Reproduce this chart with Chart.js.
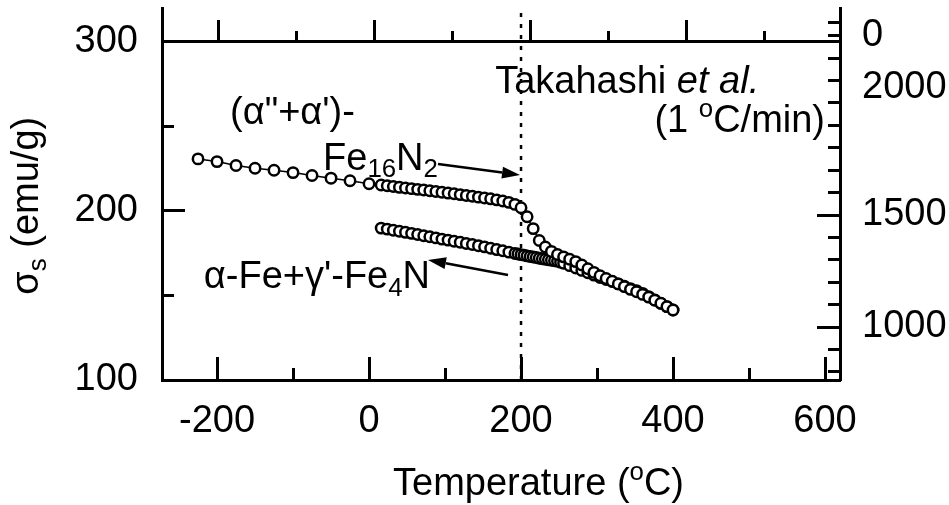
<!DOCTYPE html>
<html lang="en">
<head>
<meta charset="UTF-8">
<title>Saturation magnetization vs temperature</title>
<script src="https://cdn.jsdelivr.net/npm/chart.js"></script>
<style>
    html, body { margin: 0; padding: 0; background: #fff; }
    .wrapper { width: 949px; height: 505px; }
</style>
</head>
<body>
<div class="wrapper"><canvas id="sigmaChart"></canvas></div>
<script>
// heating run: sparse points below room temperature, then dense up to 400 C
const heatTemp = [-225, -200, -175, -150, -125, -100, -75, -50, -25, 0,
    16, 24, 32, 40, 48, 56, 64, 72, 80, 88, 96, 104, 112, 120, 128, 136, 144, 152, 160, 168, 176, 184, 192, 200,
    208, 216, 224, 232, 240, 248, 256, 264, 272, 280, 288, 296, 304, 312, 320, 328, 336, 344, 352, 360, 368, 376, 384, 392, 400];
const heatSigma = [230.7, 229.1, 226.8, 225.2, 224.0, 222.6, 220.9, 219.3, 217.8, 216.0,
    215.3, 214.8, 214.4, 213.9, 213.5, 213.1, 212.7, 212.3, 211.9, 211.4, 211.0, 210.5, 210.1, 209.6, 209.1, 208.6, 208.1, 207.6, 207.1, 206.5, 205.8, 205.0, 203.8, 201.8,
    196.5, 189.5, 182.5, 178.6, 176.0, 174.2, 172.8, 171.4, 170.0, 168.0, 165.8, 163.6, 161.6, 160.0, 158.4, 156.8, 155.2, 153.6, 152.2, 150.6, 149.0, 147.2, 145.4, 143.4, 141.4];

// cooling run back to room temperature (alpha-Fe + gamma'-Fe4N)
const coolTemp = [16, 24, 32, 40, 48, 56, 64, 72, 80, 88, 96, 104, 112, 120, 128, 136, 144, 152, 160, 168, 176, 184, 192,
    196, 200, 204, 208, 212, 216, 220, 224, 228, 232, 236, 240, 244, 248, 252,
    256, 264, 272, 280, 288, 296, 304, 312, 320, 328, 336, 344, 352, 360, 368, 376, 384, 392, 400];
const coolSigma = [189.8, 189.2, 188.5, 187.9, 187.3, 186.7, 186.0, 185.3, 184.7, 184.0, 183.3, 182.7, 182.0, 181.4, 180.7, 180.1, 179.4, 178.7, 177.9, 177.1, 176.4, 175.6, 174.8,
    174.5, 174.1, 173.8, 173.4, 173.0, 172.7, 172.4, 172.0, 171.7, 171.4, 171.1, 170.8, 170.5, 170.2, 169.6,
    169.0, 167.6, 166.2, 164.8, 163.4, 162.0, 160.6, 159.4, 158.2, 156.8, 155.4, 154.0, 152.8, 151.2, 149.3, 147.3, 145.3, 143.4, 141.4];

const transitionTemp = 200;

// axis ranges and ticks
const xMin = -272.4, xMax = 619.7;
const topMin = -271.8, topMax = 597.4;
const yMin = 100, yMax = 319.9;
const rightMin = 763.4, rightMax = 2424.1;

const xMajorTicks = [-200, 0, 200, 400, 600];
const xMinorTicks = [-100, 100, 300, 500];
const topMajorTicks = [-200, 0, 200, 400];
const topMinorTicks = [-100, 100, 300, 500];
const yMajorTicks = [100, 200, 300];
const yMinorTicks = [150, 250];
const rightLabelValues = [2300, 2070, 1500, 1000];
const rightLabels = ['0', '2000', '1500', '1000'];
const rightMajorTicks = [1000, 1500];
const rightMinorTicks = [800, 900, 1100, 1200, 1300, 1400, 1600, 1700, 1800, 1900, 2000, 2100, 2200, 2300, 2360];

// text on the plot, anchored in data units (t = temperature, s = sigma)
const notes = [
    { parts: [['(α"+α\')-', '']], t: -182.9, s: 251.3, align: 'left' },
    { parts: [['Fe', ''], ['16', 'sub'], ['N', ''], ['2', 'sub']], t: -60.5, s: 224.2, align: 'left' },
    { parts: [['Takahashi ', ''], ['et al.', 'i']], t: 166, s: 269.7, align: 'left' },
    { parts: [['(1 ', ''], ['o', 'sup'], ['C/min)', '']], t: 600, s: 246.5, align: 'right' },
    { parts: [['α-Fe+γ\'-Fe', ''], ['4', 'sub'], ['N', '']], t: 80.3, s: 154.4, align: 'right' }
];
const arrows = [
    { from: [90.8, 227.7], to: [198.7, 221.2] },
    { from: [182.9, 162.1], to: [77.6, 171.0] }
];
const xTitle = [['Temperature (', ''], ['o', 'sup'], ['C)', '']];
const yTitle = [['σ', ''], ['s', 'sub'], [' (emu/g)', '']];

const FONT = '"Liberation Sans", Arial, sans-serif';
const SIZE = 38;

function toPoints(xs, ys) {
    return xs.map((v, i) => ({ x: v, y: ys[i] }));
}

function frameAxis(o) {
    return {
        type: 'linear',
        axis: o.axis,
        position: o.position,
        min: o.min,
        max: o.max,
        weight: o.weight || 0,
        afterBuildTicks: scale => { scale.ticks = o.values.map(v => ({ value: v })); },
        afterFit: scale => {
            if (scale.isHorizontal()) scale.height = o.size; else scale.width = o.size;
            scale.paddingTop = scale.paddingBottom = scale.paddingLeft = scale.paddingRight = 0;
        },
        grid: {
            drawOnChartArea: false,
            drawTicks: true,
            tickLength: o.tickLength,
            tickWidth: 3,
            tickColor: o.tickColor || '#000'
        },
        border: { display: true, color: '#000', width: 3 },
        ticks: o.labels ? {
            display: true,
            autoSkip: false,
            maxRotation: 0,
            padding: o.padding,
            color: '#000',
            font: { family: FONT, size: SIZE },
            callback: o.labels
        } : { display: false }
    };
}

function drawRich(ctx, parts, x, y, align) {
    const fontFor = k => (k === 'i' ? 'italic ' : '') + ((k === 'sub' || k === 'sup') ? SIZE * 0.68 : SIZE) + 'px ' + FONT;
    const widths = parts.map(([t, k]) => { ctx.font = fontFor(k); return ctx.measureText(t).width; });
    const total = widths.reduce((a, b) => a + b, 0);
    let cx = align === 'right' ? x - total : align === 'center' ? x - total / 2 : x;
    parts.forEach(([t, k], i) => {
        ctx.font = fontFor(k);
        const dy = k === 'sub' ? SIZE * 0.2 : k === 'sup' ? -SIZE * 0.4 : 0;
        ctx.fillText(t, cx, y + dy);
        cx += widths[i];
    });
}

function drawArrow(ctx, x1, y1, x2, y2) {
    const a = Math.atan2(y2 - y1, x2 - x1);
    const len = 18, half = 6;
    const bx = x2 - len * Math.cos(a), by = y2 - len * Math.sin(a);
    ctx.lineWidth = 2.5;
    ctx.beginPath();
    ctx.moveTo(x1, y1);
    ctx.lineTo(bx, by);
    ctx.stroke();
    ctx.beginPath();
    ctx.moveTo(x2, y2);
    ctx.lineTo(bx + half * Math.sin(a), by - half * Math.cos(a));
    ctx.lineTo(bx - half * Math.sin(a), by + half * Math.cos(a));
    ctx.closePath();
    ctx.fill();
}

const notesPlugin = {
    id: 'notes',
    afterDatasetsDraw(chart) {
        const { ctx, chartArea } = chart;
        const { x, y } = chart.scales;
        ctx.save();
        ctx.fillStyle = '#000';
        ctx.strokeStyle = '#000';
        ctx.textAlign = 'left';
        ctx.textBaseline = 'alphabetic';
        notes.forEach(n => drawRich(ctx, n.parts, x.getPixelForValue(n.t), y.getPixelForValue(n.s), n.align));
        arrows.forEach(a => drawArrow(ctx,
            x.getPixelForValue(a.from[0]), y.getPixelForValue(a.from[1]),
            x.getPixelForValue(a.to[0]), y.getPixelForValue(a.to[1])));
        // axis titles
        drawRich(ctx, xTitle, chartArea.left + 231, chartArea.bottom + 115, 'left');
        ctx.translate(38, y.getPixelForValue(203));
        ctx.rotate(-Math.PI / 2);
        drawRich(ctx, yTitle, 0, 0, 'center');
        ctx.restore();
    }
};

const circleStyle = {
    showLine: true,
    borderColor: '#000',
    borderWidth: 1.5,
    pointStyle: 'circle',
    pointRadius: 5.2,
    pointBorderWidth: 2.5,
    pointBackgroundColor: '#fff',
    pointBorderColor: '#000',
    fill: false
};

new Chart(document.getElementById('sigmaChart'), {
    type: 'scatter',
    data: {
        datasets: [
            Object.assign({ label: 'heating', data: toPoints(heatTemp, heatSigma) }, circleStyle),
            Object.assign({ label: 'cooling', data: toPoints(coolTemp, coolSigma) }, circleStyle),
            {
                label: 'transition',
                data: [{ x: transitionTemp, y: yMin }, { x: transitionTemp, y: yMax }],
                showLine: true,
                borderColor: '#000',
                borderWidth: 2.5,
                borderDash: [4, 7],
                pointRadius: 0
            }
        ]
    },
    options: {
        responsive: true,
        maintainAspectRatio: false,
        animation: false,
        layout: { padding: { top: 8, left: 0, right: 0, bottom: 0 } },
        plugins: { legend: { display: false }, tooltip: { enabled: false } },
        scales: {
            x: frameAxis({ axis: 'x', position: 'bottom', min: xMin, max: xMax, values: xMajorTicks, tickLength: -23, weight: 1, size: 125, labels: v => String(v), padding: 42 }),
            xMinor: frameAxis({ axis: 'x', position: 'bottom', min: xMin, max: xMax, values: xMinorTicks, tickLength: -12, weight: 0, size: 0 }),
            x2: frameAxis({ axis: 'x', position: { y: 300 }, min: topMin, max: topMax, values: topMajorTicks, tickLength: -23, size: 0 }),
            x2Minor: frameAxis({ axis: 'x', position: { y: 300 }, min: topMin, max: topMax, values: topMinorTicks, tickLength: -12, size: 0 }),
            y: frameAxis({ axis: 'y', position: 'left', min: yMin, max: yMax, values: yMajorTicks, tickLength: -23, weight: 1, size: 162, labels: v => String(v), padding: 47 }),
            yMinor: frameAxis({ axis: 'y', position: 'left', min: yMin, max: yMax, values: yMinorTicks, tickLength: -12, weight: 0, size: 0 }),
            y2: frameAxis({
                axis: 'y', position: 'right', min: rightMin, max: rightMax, values: rightLabelValues, tickLength: -23, weight: 1, size: 109,
                labels: v => rightLabels[rightLabelValues.indexOf(v)], padding: 45,
                tickColor: c => rightMajorTicks.includes(c.tick && c.tick.value) ? '#000' : 'rgba(0,0,0,0)'
            }),
            y2Minor: frameAxis({ axis: 'y', position: 'right', min: rightMin, max: rightMax, values: rightMinorTicks, tickLength: -12, weight: 0, size: 0 })
        }
    },
    plugins: [notesPlugin]
});
</script>
</body>
</html>
